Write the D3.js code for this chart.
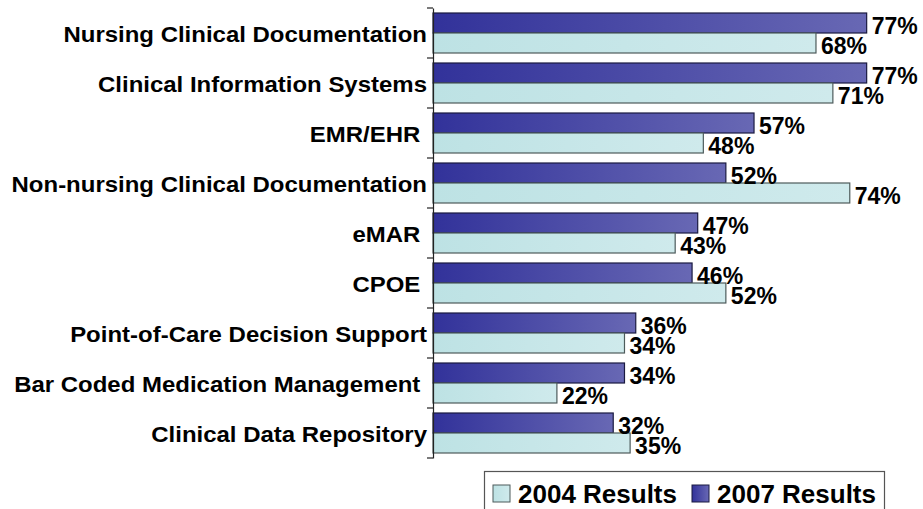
<!DOCTYPE html>
<html><head><meta charset="utf-8">
<script src="https://cdn.jsdelivr.net/npm/d3@7"></script>
<style>body{margin:0;background:#fff}svg{display:block}text{font-family:"Liberation Sans",Arial,sans-serif;font-weight:bold;fill:#000;white-space:pre}</style>
</head><body>
<svg id="c" width="923" height="509"></svg>
<script>
const categories = ["Nursing Clinical Documentation","Clinical Information Systems","EMR/EHR ","Non-nursing Clinical Documentation","eMAR ","CPOE ","Point-of-Care Decision Support","Bar Coded Medication Management ","Clinical Data Repository"];
const results2007 = [77,77,57,52,47,46,36,34,32];
const results2004 = [68,71,48,74,43,52,34,22,35];
const seriesNames = ["2007 Results","2004 Results"];
const legendLabels = ["2004 Results","2007 Results"];

const svg = d3.select("#c");
const defs = svg.append("defs");
const g7 = defs.append("linearGradient").attr("id","g7").attr("x1","0").attr("x2","1").attr("y1","0").attr("y2","0");
g7.append("stop").attr("offset","0").attr("stop-color","#32329a");
g7.append("stop").attr("offset","1").attr("stop-color","#6868b4");
const g4 = defs.append("linearGradient").attr("id","g4").attr("x1","0").attr("x2","1").attr("y1","0").attr("y2","0");
g4.append("stop").attr("offset","0").attr("stop-color","#bde2e4");
g4.append("stop").attr("offset","1").attr("stop-color","#cfeaec");

const x = d3.scaleLinear().domain([0,100]).range([433, 996.2]);
const y = d3.scaleBand().domain(categories).range([8,458]).paddingInner(0);
const inner = d3.scaleBand().domain(seriesNames).range([5,45]);
const fills = {"2007 Results":"url(#g7)","2004 Results":"url(#g4)"};
const strokes = {"2007 Results":"#1a1a40","2004 Results":"#4d5b5b"};

const rows = categories.map((c,i)=>({cat:c, vals:[{s:"2007 Results",v:results2007[i]},{s:"2004 Results",v:results2004[i]}]}));

const grp = svg.selectAll("g.cat").data(rows).join("g").attr("class","cat")
  .attr("transform",d=>`translate(0,${y(d.cat)})`);
grp.selectAll("rect").data(d=>d.vals).join("rect")
  .attr("x",x(0)).attr("y",d=>inner(d.s)).attr("width",d=>x(d.v)-x(0)).attr("height",inner.bandwidth())
  .attr("fill",d=>fills[d.s]).attr("stroke",d=>strokes[d.s]).attr("stroke-width",1.2);
grp.selectAll("text.val").data(d=>d.vals).join("text").attr("class","val")
  .attr("x",d=>x(d.v)+5).attr("y",d=>inner(d.s)+inner.bandwidth()/2+11)
  .attr("font-size","23px").text(d=>d.v+"%");

// axis
const axis = d3.axisLeft(y).tickSize(0).tickFormat("");
const ag = svg.append("g").attr("transform",`translate(${x(0)},0)`).call(axis);
ag.select(".domain").attr("stroke","#222").attr("stroke-width",1.2);
const bounds = categories.map(c=>y(c)).concat([y.range()[1]]);
ag.selectAll("line.tk").data(bounds).join("line").attr("class","tk")
  .attr("x1",-6).attr("x2",0).attr("y1",d=>d).attr("y2",d=>d).attr("stroke","#222").attr("stroke-width",1.2);

// category labels
svg.selectAll("g.lab").data(categories).join("g").attr("class","lab")
  .attr("transform",d=>`translate(427,${y(d)+y.bandwidth()/2+8.7}) scale(1.09,1)`)
  .append("text").attr("text-anchor","end").attr("font-size","22px").text(d=>d);

// legend
const lg = svg.append("g");
lg.append("rect").attr("x",484.5).attr("y",471.5).attr("width",400).attr("height",45).attr("fill","#fff").attr("stroke","#555").attr("stroke-width",1.2);
const legX = [493, 692];
const lfill = {"2004 Results":"url(#g4)","2007 Results":"url(#g7)"};
const li = lg.selectAll("g.li").data(legendLabels).join("g").attr("class","li")
  .attr("transform",(d,i)=>`translate(${legX[i]},0)`);
li.append("rect").attr("x",0).attr("y",485).attr("width",17).attr("height",17)
  .attr("fill",d=>lfill[d]).attr("stroke",d=>d==="2004 Results"?"#4d5b5b":"#1a1a40").attr("stroke-width",1);
li.append("text").attr("x",25).attr("y",503).attr("font-size","26px").text(d=>d);
</script>
</body></html>
